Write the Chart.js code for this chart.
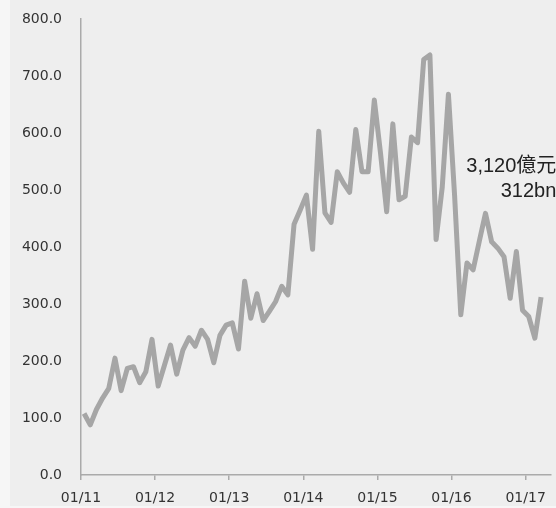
<!DOCTYPE html>
<html>
<head>
<meta charset="utf-8">
<script src="https://cdn.jsdelivr.net/npm/chart.js@4/dist/chart.umd.min.js"></script>
<style>
  html, body { margin: 0; padding: 0; background: #f6f6f6; }
  #wrap { position: relative; width: 556px; height: 508px; overflow: hidden; }
  #panel { position: absolute; left: 10px; top: 0; width: 546px; height: 506px; background: #eeeeee; }
  #chart { position: absolute; left: 0; top: 0; }
</style>
</head>
<body>
<div id="wrap">
  <div id="panel"></div>
  <canvas id="chart" width="556" height="508"></canvas>
</div>
<script>
// Monthly values, January 2011 through March 2017
const startYear = 2011;
const values = [
  108, 88, 115, 135, 152, 205, 148, 187, 190, 162, 181, 238,   // 2011
  156, 192, 228, 177, 219, 241, 226, 254, 238, 197, 245, 263,   // 2012
  267, 221, 340, 275, 318, 271, 287, 304, 331, 316, 440, 465,   // 2013
  491, 396, 603, 460, 443, 532, 512, 496, 606, 532, 532, 658,   // 2014
  565, 462, 616, 483, 489, 593, 583, 729, 737, 413, 505, 668,   // 2015
  490, 281, 372, 360, 410, 459, 409, 398, 383, 310, 392, 289,   // 2016
  278, 240, 312                                                  // 2017
];
const tickLabels = ['01/11', '01/12', '01/13', '01/14', '01/15', '01/16', '01/17'];
const yTicks = [0, 100, 200, 300, 400, 500, 600, 700, 800];

// Month offsets from Jan 2011; each value sits at mid-month
const points = values.map((v, i) => ({ x: i + 0.5, y: v }));
const tickPositions = tickLabels.map((_, i) => i * 12);
const totalMonths = values.length + 1;

const lastValue = values[values.length - 1];
const noteLines = [
  (lastValue * 10).toLocaleString('en-US') + '億元',
  lastValue + 'bn'
];

const notePlugin = {
  id: 'endNote',
  afterDatasetsDraw(chart) {
    const { ctx, chartArea } = chart;
    ctx.save();
    ctx.fillStyle = '#222222';
    ctx.font = '20px "Liberation Sans", Arial, "Noto Sans CJK TC", sans-serif';
    ctx.textAlign = 'right';
    ctx.textBaseline = 'middle';
    const x = chartArea.right + 6;
    ctx.fillText(noteLines[0], x, 166);
    ctx.fillText(noteLines[1], x, 191);
    ctx.restore();
  }
};

const tickFont = { family: '"DejaVu Sans", Verdana, sans-serif', size: 14 };

new Chart(document.getElementById('chart'), {
  type: 'line',
  data: {
    datasets: [{
      data: points,
      borderColor: '#a6a6a6',
      borderWidth: 5,
      borderJoinStyle: 'round',
      borderCapStyle: 'butt',
      pointRadius: 0,
      pointHoverRadius: 0,
      tension: 0,
      fill: false
    }]
  },
  options: {
    responsive: false,
    animation: false,
    events: [],
    layout: { padding: { top: 19, right: 4, left: 0, bottom: 0 } },
    plugins: { legend: { display: false }, tooltip: { enabled: false } },
    scales: {
      x: {
        type: 'linear',
        min: 0,
        max: totalMonths,
        afterBuildTicks(scale) {
          scale.ticks = tickPositions.map(v => ({ value: v }));
        },
        afterFit(scale) { scale.height = 33; },
        ticks: {
          autoSkip: false,
          maxRotation: 0,
          padding: 10,
          color: '#333333',
          font: tickFont,
          callback: (v) => tickLabels[tickPositions.indexOf(v)] ?? ''
        },
        grid: {
          display: true,
          drawOnChartArea: false,
          drawTicks: true,
          tickLength: 5,
          color: '#aaaaaa',
          lineWidth: 1.5
        },
        border: { display: true, color: '#aaaaaa', width: 1.5 }
      },
      y: {
        min: 0,
        max: 800,
        afterBuildTicks(scale) {
          scale.ticks = yTicks.map(v => ({ value: v }));
        },
        afterFit(scale) { scale.width = 81; },
        ticks: {
          padding: 0,
          color: '#333333',
          font: tickFont,
          callback: (v) => Number(v).toFixed(1)
        },
        // invisible tick marks keep the labels clear of the axis line
        grid: {
          display: true,
          drawOnChartArea: false,
          drawTicks: true,
          tickLength: 19,
          color: 'rgba(0,0,0,0)'
        },
        border: { display: true, color: '#aaaaaa', width: 1.5 }
      }
    }
  },
  plugins: [notePlugin]
});
</script>
</body>
</html>
